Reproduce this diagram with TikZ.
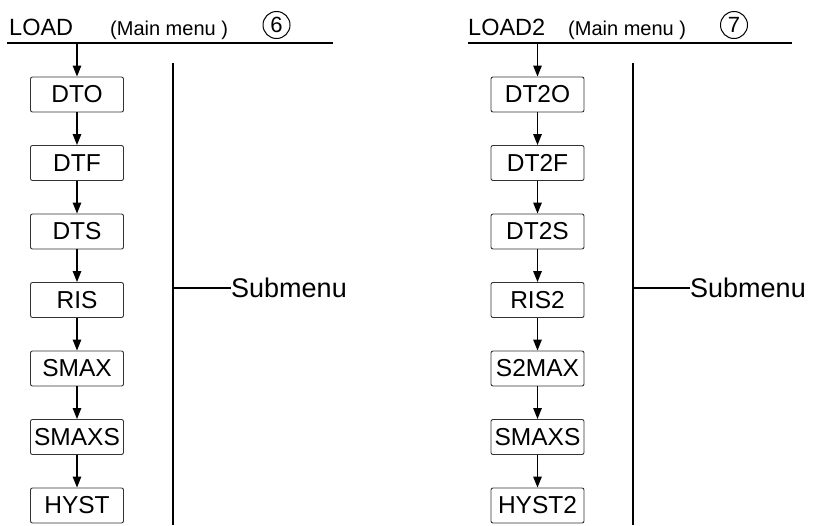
\documentclass[tikz,border=0pt]{standalone}
\usepackage{fontspec}
\setmainfont{Liberation Sans}
\usetikzlibrary{arrows.meta}
\tikzset{
  menubox/.style={draw=black!80, line width=0.9pt, rounded corners=2pt, minimum width=93pt, minimum height=35pt, inner sep=0pt, font=\fontsize{24.5}{26}\selectfont},
  flow/.style={line width=1.3pt, -{Triangle[length=11pt,width=8.5pt]}},
  rule/.style={line width=1.4pt},
  title/.style={anchor=base west, inner sep=0pt, font=\fontsize{23.5}{26}\selectfont},
  sub/.style={anchor=base west, inner sep=0pt, font=\fontsize{20}{22}\selectfont},
  numcirc/.style={draw, circle, line width=1pt, minimum size=27pt, inner sep=0pt, font=\fontsize{22}{24}\selectfont},
  subtext/.style={anchor=west, inner sep=0pt, font=\fontsize{27}{30}\selectfont}
}
\begin{document}
\begin{tikzpicture}[x=1pt,y=-1pt]
\useasboundingbox (0,0) rectangle (829,525);
% ---------- left ----------
\node[title] (lt) at (9,35) {LOAD};
\node[sub] (lm) at (110,35) {(Main menu )};
\node[numcirc] (c6) at (276.5,25) {6};
\coordinate (la) at (7,43);
\coordinate (lb) at (333,43);
\draw[rule] (la) -- (lb);
\coordinate (lstart) at (77,43);
\foreach \t/\n [count=\i from 0] in {DTO/l0,DTF/l1,DTS/l2,RIS/l3,SMAX/l4,SMAXS/l5,HYST/l6}
  \node[menubox] (\n) at (77,94.5+68.5*\i) {\t};
\draw[flow] (lstart) -- (l0);
\foreach \a/\b in {l0/l1,l1/l2,l2/l3,l3/l4,l4/l5,l5/l6}
  \draw[flow] (\a) -- (\b);
\coordinate (lv1) at (173,63);
\coordinate (lv2) at (173,525);
\draw[rule] (lv1) -- (lv2);
\coordinate (lh) at (173,288);
\node[subtext] (ls) at (231,288) {Submenu};
\draw[rule] (lh) -- (ls);
% ---------- right ----------
\node[title] (rt) at (468,35) {LOAD2};
\node[sub] (rm) at (568,35) {(Main menu )};
\node[numcirc] (c7) at (734,25) {7};
\coordinate (ra) at (468,43);
\coordinate (rb) at (792,43);
\draw[rule] (ra) -- (rb);
\coordinate (rstart) at (537.5,43);
\foreach \t/\n [count=\i from 0] in {DT2O/r0,DT2F/r1,DT2S/r2,RIS2/r3,S2MAX/r4,SMAXS/r5,HYST2/r6}
  \node[menubox] (\n) at (537.5,94.5+68.5*\i) {\t};
\draw[flow] (rstart) -- (r0);
\foreach \a/\b in {r0/r1,r1/r2,r2/r3,r3/r4,r4/r5,r5/r6}
  \draw[flow] (\a) -- (\b);
\coordinate (rv1) at (633,63);
\coordinate (rv2) at (633,525);
\draw[rule] (rv1) -- (rv2);
\coordinate (rh) at (633,288);
\node[subtext] (rs) at (690,288) {Submenu};
\draw[rule] (rh) -- (rs);
\end{tikzpicture}
\end{document}
